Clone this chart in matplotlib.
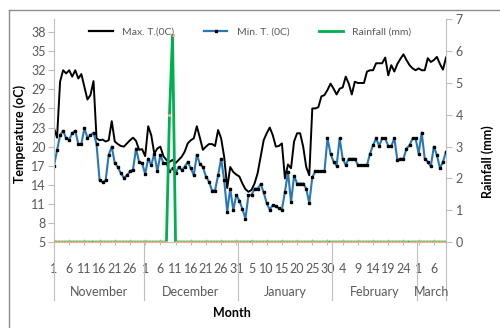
import matplotlib
matplotlib.use("Agg")
import matplotlib.pyplot as plt
from matplotlib import font_manager
from matplotlib.lines import Line2D
from matplotlib.transforms import blended_transform_factory
import numpy as np

# ---- daily weather record, 1 November to 10 March ----
max_temp = [
    22.9, 21.4, 30.2, 32.0, 31.5, 32.0, 31.0, 32.0, 30.7, 31.4,
    29.4, 27.4, 28.1, 30.3, 21.3, 21.0, 21.1, 20.8, 21.0, 24.0,
    20.8, 20.4, 20.1, 20.0, 20.5, 21.0, 21.4, 20.9, 19.5, 19.6,
    18.5, 23.2, 21.8, 18.9, 19.7, 20.0, 18.5, 17.9, 17.6, 17.9,
    17.4, 17.9, 18.4, 19.2, 20.5, 21.0, 21.3, 23.2, 21.4, 19.5,
    20.0, 20.4, 20.4, 20.1, 22.6, 21.3, 18.4, 13.5, 16.8, 16.0,
    15.6, 15.3, 14.2, 13.3, 12.9, 13.2, 14.2, 15.8, 18.4, 21.0,
    22.1, 23.0, 21.8, 20.0, 20.1, 20.5, 15.0, 17.2, 16.6, 20.8,
    22.1, 22.1, 20.0, 16.8, 15.5, 26.0, 26.0, 26.2, 27.9, 28.1,
    28.9, 29.9, 29.1, 28.2, 29.1, 29.3, 31.0, 29.9, 28.2, 30.2,
    30.0, 30.0, 30.0, 31.8, 32.0, 32.0, 33.1, 33.1, 33.1, 34.0,
    31.2, 32.8, 31.8, 33.0, 33.8, 34.5, 33.6, 32.8, 32.3, 32.0,
    32.3, 32.0, 32.0, 33.9, 33.3, 33.6, 34.1, 33.0, 32.1, 34.0,
]

min_temp = [
    17.0, 19.4, 21.8, 22.5, 21.3, 21.1, 22.1, 22.5, 20.4, 20.4,
    22.9, 21.4, 21.8, 22.2, 20.4, 14.7, 14.4, 14.7, 18.7, 20.0,
    17.4, 16.8, 15.8, 15.1, 15.5, 16.1, 16.4, 19.7, 17.6, 17.4,
    15.7, 18.1, 17.1, 18.9, 16.1, 18.7, 17.4, 17.4, 16.1, 16.6,
    15.8, 16.8, 16.3, 16.8, 17.6, 16.6, 15.5, 18.7, 17.3, 16.8,
    15.3, 14.5, 13.1, 13.1, 15.5, 18.1, 14.7, 9.8, 13.4, 10.0,
    12.4, 11.5, 10.2, 8.7, 12.4, 12.4, 13.4, 13.4, 14.1, 12.8,
    11.1, 10.1, 10.8, 10.6, 10.3, 10.1, 12.9, 16.0, 11.3, 15.4,
    14.2, 14.2, 14.2, 13.4, 11.1, 15.2, 16.1, 16.1, 16.1, 16.1,
    21.3, 18.9, 17.6, 17.0, 21.3, 18.1, 17.1, 18.1, 18.1, 18.1,
    17.1, 17.1, 17.1, 17.1, 18.9, 20.2, 21.3, 20.1, 21.3, 21.3,
    20.1, 20.1, 21.3, 17.9, 18.1, 18.1, 19.7, 20.2, 21.3, 21.3,
    18.9, 22.2, 18.1, 17.6, 16.9, 20.0, 18.7, 16.6, 17.6, 19.2,
]

rainfall = [
    0, 0, 0, 0, 0, 0, 0, 0, 0, 0,
    0, 0, 0, 0, 0, 0, 0, 0, 0, 0,
    0, 0, 0, 0, 0, 0, 0, 0, 0, 0,
    0, 0, 0, 0, 0, 0, 0, 0, 4.0, 6.5,
    0, 0, 0, 0, 0, 0, 0, 0, 0, 0,
    0, 0, 0, 0, 0, 0, 0, 0, 0, 0,
    0, 0, 0, 0, 0, 0, 0, 0, 0, 0,
    0, 0, 0, 0, 0, 0, 0, 0, 0, 0,
    0, 0, 0, 0, 0, 0, 0, 0, 0, 0,
    0, 0, 0, 0, 0, 0, 0, 0, 0, 0,
    0, 0, 0, 0, 0, 0, 0, 0, 0, 0,
    0, 0, 0, 0, 0, 0, 0, 0, 0, 0,
    0, 0, 0, 0, 0, 0, 0, 0, 0, 0,
]

months = ["November", "December", "January", "February", "March"]
month_days = [30, 31, 31, 28, 10]
day_labels = ["1", "6", "11", "16", "21", "26",
              "1", "6", "11", "16", "21", "26", "31",
              "5", "10", "15", "20", "25", "30",
              "4", "9", "14", "19", "24",
              "1", "6"]
temp_ticks = [5, 8, 11, 14, 17, 20, 23, 26, 29, 32, 35, 38]
rain_ticks = [0, 1, 2, 3, 4, 5, 6, 7]

# ---- fonts ----
_names = {f.name for f in font_manager.fontManager.ttflist}
base_font = "Liberation Sans Narrow" if "Liberation Sans Narrow" in _names else "Lato"
plt.rcParams["font.family"] = [base_font, "DejaVu Sans"]

TXT = "#595959"
AXC = "#BFBFBF"
BLUE = "#2878B8"
GREEN = "#00B050"
ORANGE = "#F4B183"

x = np.arange(len(max_temp))
tick_pos = np.arange(0, len(max_temp), 5)

fig = plt.figure(figsize=(5.0, 3.28), dpi=100)
ax = fig.add_axes([0.108, 0.262, 0.784, 0.679])

ax.plot(x, max_temp, color="black", lw=1.4, solid_joinstyle="round")
ax.plot(x, min_temp, color=BLUE, lw=1.5, marker="s", ms=1.6,
        mfc="black", mec="black", solid_joinstyle="round")

ax.set_xlim(0, len(max_temp) - 1)
ax.set_ylim(5, 40)
ax.set_yticks(temp_ticks)
ax.tick_params(axis="y", direction="out", length=4, width=0.8, color=AXC,
               labelsize=9, labelcolor=TXT, pad=2)
ax.set_xticks(tick_pos)
ax.set_xticklabels(day_labels)
ax.tick_params(axis="x", direction="inout", length=4, width=0.8, color=AXC,
               labelsize=9, labelcolor=TXT, pad=13)
for side in ("top", "right"):
    ax.spines[side].set_visible(False)
ax.spines["left"].set_color(AXC)
ax.spines["left"].set_linewidth(0.8)
ax.spines["bottom"].set_color(AXC)
ax.spines["bottom"].set_linewidth(0.8)

ax2 = ax.twinx()
ax2.plot(x, rainfall, color=GREEN, lw=2.0, marker="o", ms=1.2,
         mfc=ORANGE, mec=ORANGE)
ax2.set_ylim(0, 7)
ax2.set_yticks(rain_ticks)
ax2.tick_params(axis="y", direction="out", length=4, width=0.8, color=AXC,
                labelsize=9, labelcolor=TXT, pad=3)
for side in ("top", "left", "bottom"):
    ax2.spines[side].set_visible(False)
ax2.spines["right"].set_color(AXC)
ax2.spines["right"].set_linewidth(0.8)

# ---- month level of the category axis ----
trans = blended_transform_factory(ax.transData, ax.transAxes)
edges = np.concatenate([[0], np.cumsum(month_days)]) - 0.5
edges[0] = 0
edges[-1] = len(max_temp) - 1
for e in edges:
    ax.add_line(Line2D([e, e], [0, -0.26], transform=trans, color=AXC,
                       lw=0.8, clip_on=False))
for name, a, b in zip(months, edges[:-1], edges[1:]):
    ax.text((a + b) / 2, -0.225, name, transform=trans, ha="center",
            va="center", fontsize=9, color=TXT)

# ---- axis titles ----
fig.text(232 / 500, 1 - 313 / 328, "Month", ha="center", va="center",
         fontsize=9, fontweight="bold", color="black")
fig.text(20 / 500, 1 - 134 / 328, "Temperature (oC)", rotation=90,
         ha="center", va="center", fontsize=9, fontweight="bold", color="black")
fig.text(488 / 500, 1 - 162 / 328, "Rainfall (mm)", rotation=90,
         ha="center", va="center", fontsize=9, fontweight="bold", color="black")

# ---- legend ----
handles = [
    Line2D([], [], color="black", lw=1.6),
    Line2D([], [], color=BLUE, lw=1.6, marker="s", ms=1.6, mfc="black", mec="black"),
    Line2D([], [], color=GREEN, lw=2.0),
]
labels = ["Max. T.(0C)", "Min. T. (0C)", "Rainfall (mm)"]
leg = ax2.legend(handles, labels, ncol=3, frameon=False, loc="center",
                 bbox_to_anchor=(250 / 500, 1 - 32 / 328),
                 bbox_transform=fig.transFigure, fontsize=7.5,
                 handlelength=2.3, handletextpad=0.9, columnspacing=2.8,
                 borderaxespad=0, borderpad=0)
for t in leg.get_texts():
    t.set_color(TXT)

# ---- chart area frame ----
fig.add_artist(Line2D([9 / 500, 1.0], [1 - 10 / 328, 1 - 10 / 328],
                      transform=fig.transFigure, color="#8C8C8C", lw=1.0))
fig.add_artist(Line2D([9 / 500, 9 / 500], [0.0, 1 - 10 / 328],
                      transform=fig.transFigure, color="#8C8C8C", lw=1.0))

fig.savefig("out.png", dpi=100, facecolor="white")
